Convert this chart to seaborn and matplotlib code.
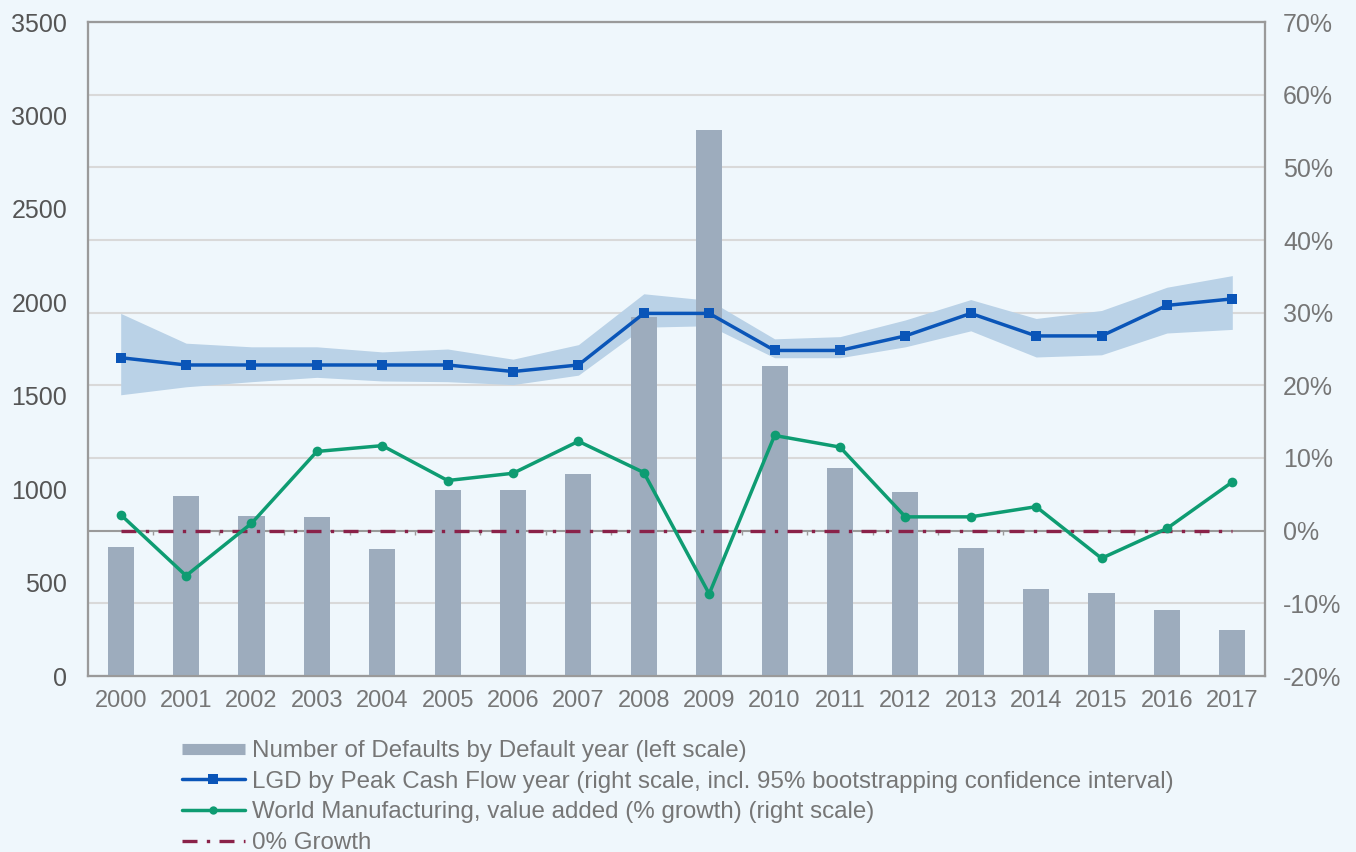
import numpy as np
import matplotlib
matplotlib.use("Agg")
import matplotlib.pyplot as plt
import seaborn as sns
from matplotlib.lines import Line2D

# 数据
years = ['2000', '2001', '2002', '2003', '2004', '2005', '2006', '2007', '2008',
         '2009', '2010', '2011', '2012', '2013', '2014', '2015', '2016', '2017']
defaults = [690, 963, 856, 851, 680, 995, 995, 1081, 1921,
            2921, 1659, 1113, 985, 685, 465, 444, 353, 246]
lgd = [23.8, 22.8, 22.8, 22.8, 22.8, 22.8, 21.9, 22.8, 29.9,
       29.9, 24.8, 24.8, 26.8, 29.9, 26.8, 26.8, 31.0, 31.9]
lgd_upper = [29.9, 25.8, 25.3, 25.3, 24.6, 25.0, 23.6, 25.6, 32.6,
             31.7, 26.4, 26.7, 29.0, 31.8, 29.2, 30.3, 33.5, 35.1]
lgd_lower = [18.7, 19.8, 20.5, 21.1, 20.6, 20.5, 20.1, 21.4, 28.0,
             28.2, 23.8, 23.8, 25.3, 27.5, 23.9, 24.2, 27.2, 27.7]
manuf = [2.2, -6.2, 1.0, 10.9, 11.7, 6.9, 7.9, 12.3, 8.0,
         -8.7, 13.1, 11.5, 1.9, 1.9, 3.3, -3.8, 0.3, 6.7]
left_ticks = [0, 500, 1000, 1500, 2000, 2500, 3000, 3500]
right_ticks = [-20, -10, 0, 10, 20, 30, 40, 50, 60, 70]

labels = ['Number of Defaults by Default year (left scale)',
          'LGD by Peak Cash Flow year (right scale, incl. 95% bootstrapping confidence interval)',
          'World Manufacturing, value added (% growth) (right scale)',
          '0% Growth']

bg = '#EFF7FC'
bar_c = '#9DACBD'
band_c = '#BAD2E7'
blue = '#0A55B8'
green = '#0E9C72'
maroon = '#8A2249'
spine_c = '#9A9A9A'
grid_c = '#D9D9D9'
dash = (0, (4.5, 2.8, 1, 2.8))

sns.set_style('white')
plt.rcParams['font.family'] = ['Liberation Sans', 'DejaVu Sans']
plt.rcParams['axes.unicode_minus'] = False

x = np.arange(len(years))

fig = plt.figure(figsize=(13.56, 8.52), dpi=100, facecolor=bg)
rect = [88 / 1356, 1 - 676 / 852, (1265 - 88) / 1356, (676 - 22) / 852]

# 底层：右轴刻度、网格线、置信区间
ax_r = fig.add_axes(rect)
ax_r.set_facecolor(bg)
ax_r.fill_between(x, lgd_lower, lgd_upper, color=band_c, lw=0, zorder=2)
ax_r.axhline(0, color=spine_c, lw=1.5, zorder=1)
ax_r.vlines(x[:-1] + 0.5, -0.6, 0, color=spine_c, lw=1, zorder=1)
ax_r.set_ylim(right_ticks[0], right_ticks[-1])
ax_r.grid(axis='y', color=grid_c, lw=1.5, zorder=0)
ax_r.set_axisbelow(True)

# 中层：柱状图（左轴）
ax_l = ax_r.twinx()
sns.barplot(x=years, y=defaults, color=bar_c, saturation=1, width=0.4,
            linewidth=0, ax=ax_l, zorder=3)
ax_l.set_ylim(left_ticks[0], left_ticks[-1])
ax_l.set_ylabel('')
ax_l.set_xlabel('')

# 顶层：折线
ax_t = ax_r.twinx()
ax_t.set_ylim(right_ticks[0], right_ticks[-1])
ax_t.axhline(0, xmin=0.5 / 18, xmax=17.5 / 18, color=maroon, lw=2.4,
             linestyle=dash)
sns.lineplot(x=x, y=lgd, color=blue, lw=2.5, marker='s', markersize=6.5,
             markeredgewidth=0, ax=ax_t)
sns.lineplot(x=x, y=manuf, color=green, lw=2.5, marker='o', markersize=7,
             markeredgewidth=0, ax=ax_t)
ax_t.set_yticks([])

# twinx 会把原坐标轴刻度放到左边，这里重新设置
ax_r.yaxis.tick_right()
ax_r.set_yticks(right_ticks)
ax_r.set_yticklabels([f'{v}%' for v in right_ticks])
ax_l.yaxis.tick_left()
ax_l.set_yticks(left_ticks)

for a in (ax_r, ax_l, ax_t):
    a.set_xlim(-0.5, len(years) - 0.5)
    for s in a.spines.values():
        s.set_color(spine_c)
        s.set_linewidth(1.5)
    a.tick_params(length=0)

ax_r.set_xticks(x)
ax_r.set_xticklabels(years)
ax_r.tick_params(axis='x', labelsize=17, colors='#767676', pad=10)
ax_r.tick_params(axis='y', labelsize=18, colors='#767676', pad=13)
ax_l.tick_params(axis='y', labelsize=18, colors='#555555', pad=15)
ax_l.tick_params(axis='x', labelbottom=False)
ax_t.tick_params(axis='x', labelbottom=False)

handles = [Line2D([], [], color=bar_c, lw=8, solid_capstyle='butt'),
           Line2D([], [], color=blue, lw=2.5, marker='s', markersize=7, markeredgewidth=0),
           Line2D([], [], color=green, lw=2.5, marker='o', markersize=6, markeredgewidth=0),
           Line2D([], [], color=maroon, lw=2.4, linestyle=dash)]
leg = fig.legend(handles, labels, loc='upper left',
                 bbox_to_anchor=(182 / 1356, 1 - 740 / 852),
                 frameon=False, fontsize=17.4, handlelength=2.6,
                 handletextpad=0.3, labelspacing=0.36, borderpad=0,
                 borderaxespad=0)
for t in leg.get_texts():
    t.set_color('#767676')

fig.savefig('out.png', dpi=100, facecolor=bg)
